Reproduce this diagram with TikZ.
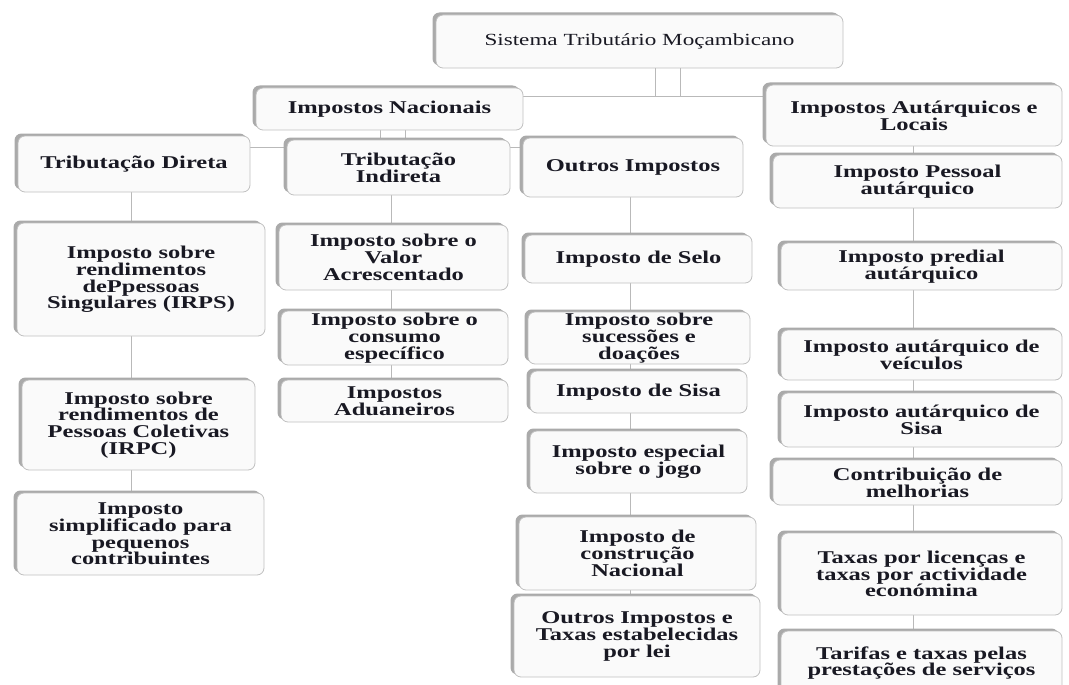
\documentclass[tikz,border=0pt]{standalone}
\usepackage{fontspec}
\setmainfont{Liberation Serif}[FakeStretch=1.36]
\usetikzlibrary{shadows,backgrounds}
\definecolor{txt}{RGB}{25,25,35}
\definecolor{edgec}{RGB}{192,192,192}
\definecolor{shade}{RGB}{170,170,170}
\definecolor{boxfill}{RGB}{250,250,250}
\definecolor{connc}{RGB}{185,185,185}
\newcommand\boxfont{\fontsize{18}{16.8}\selectfont\bfseries\lineskiplimit=-20pt\relax}
\newcommand\rootfont{\fontsize{17}{16}\selectfont\lineskiplimit=-20pt\relax}
\begin{document}
\begin{tikzpicture}[x=1pt,y=-1pt,
  box/.style={draw=edgec, line width=0.8pt, fill=boxfill, rounded corners=7pt,
    align=center, text=txt, inner sep=1pt, font=\boxfont,
    drop shadow={shadow xshift=-3.5pt, shadow yshift=2.5pt, fill=shade, opacity=1}},
  link/.style={draw=connc, line width=0.9pt}]
\useasboundingbox (0,0) rectangle (1069,685);
\clip (0,0) rectangle (1069,685);

\node[box, font=\rootfont, minimum width=407pt, minimum height=53pt] (root) at (639.5,41.5) {Sistema Tributário Moçambicano};
\node[box, minimum width=267pt, minimum height=42pt] (nac) at (389.5,109) {Impostos Nacionais};
\node[box, minimum width=296pt, minimum height=61pt] (aut) at (914,115.5) {Impostos Autárquicos e\\Locais};

\node[box, minimum width=232pt, minimum height=56pt] (dir) at (134,164) {Tributação Direta};
\node[box, minimum width=223pt, minimum height=55pt] (ind) at (398.5,167.5) {Tributação\\Indireta};
\node[box, minimum width=220pt, minimum height=59pt] (out) at (633,167.5) {Outros Impostos};

\node[box, minimum width=289pt, minimum height=53pt] (pes) at (917.5,181.5) {Imposto Pessoal\\autárquico};
\node[box, minimum width=281pt, minimum height=47pt] (pred) at (921.5,266.5) {Imposto predial\\autárquico};
\node[box, minimum width=281pt, minimum height=50pt] (vei) at (921.5,355) {Imposto autárquico de\\veículos};
\node[box, minimum width=281pt, minimum height=54pt] (asisa) at (921.5,420) {Imposto autárquico de\\Sisa};
\node[box, minimum width=289pt, minimum height=45pt] (cont) at (917.5,482.5) {Contribuição de\\melhorias};
\node[box, minimum width=281pt, minimum height=82pt] (tax) at (921.5,574) {Taxas por licenças e\\taxas por actividade\\económina};
\node[box, minimum width=281pt, minimum height=64pt] (tar) at (921.5,663) {Tarifas e taxas pelas\\prestações de serviços};

\node[box, minimum width=248pt, minimum height=113pt] (irps) at (141,279.5) {Imposto sobre\\rendimentos\\dePpessoas\\Singulares (IRPS)};
\node[box, minimum width=233pt, minimum height=90pt] (irpc) at (138.5,425) {Imposto sobre\\rendimentos de\\Pessoas Coletivas\\(IRPC)};
\node[box, minimum width=247pt, minimum height=82pt] (simp) at (140.5,534) {Imposto\\simplificado para\\pequenos\\contribuintes};

\node[box, minimum width=229pt, minimum height=65pt] (iva) at (393.5,257.5) {Imposto sobre o\\Valor\\Acrescentado};
\node[box, minimum width=227pt, minimum height=54pt] (cons) at (394.5,338) {Imposto sobre o\\consumo\\específico};
\node[box, minimum width=227pt, minimum height=42pt] (adu) at (394.5,401) {Impostos\\Aduaneiros};

\node[box, minimum width=227pt, minimum height=48pt] (selo) at (638.5,259) {Imposto de Selo};
\node[box, minimum width=222pt, minimum height=52pt] (suc) at (639,338) {Imposto sobre\\sucessões e\\doações};
\node[box, minimum width=217pt, minimum height=42pt] (sisa) at (638.5,392) {Imposto de Sisa};
\node[box, minimum width=217pt, minimum height=62pt] (jogo) at (638.5,462) {Imposto especial\\sobre o jogo};
\node[box, minimum width=237pt, minimum height=73pt] (constr) at (637.5,553.5) {Imposto de\\construção\\Nacional};
\node[box, minimum width=246pt, minimum height=81pt] (outt) at (637,636.5) {Outros Impostos e\\Taxas estabelecidas\\por lei};

\begin{pgfonlayer}{background}
\fill[white] (0,0) rectangle (1069,685);
\coordinate (jA) at (655,96);
\coordinate (jB) at (680,96);
\coordinate (nA) at (380,147);
\coordinate (nB) at (405,147);
\coordinate (cD) at (131,0);
\coordinate (cI) at (391,0);
\coordinate (cO) at (630,0);
\coordinate (cA) at (913,0);
\draw[link] (root.south -| jA) -- (jA);
\draw[link] (root.south -| jB) -- (jB);
\draw[link] (nac.east |- jA) -- (aut.west |- jA);
\draw[link] (nac.south -| nA) -- (nA);
\draw[link] (nac.south -| nB) -- (nB);
\draw[link] (dir.east |- nA) -- (out.west |- nA);
\draw[link] (dir.south -| cD) -- (simp.north -| cD);
\draw[link] (ind.south -| cI) -- (adu.north -| cI);
\draw[link] (out.south -| cO) -- (outt.north -| cO);
\draw[link] (aut.south -| cA) -- (tar.north -| cA);
\end{pgfonlayer}
\end{tikzpicture}
\end{document}
